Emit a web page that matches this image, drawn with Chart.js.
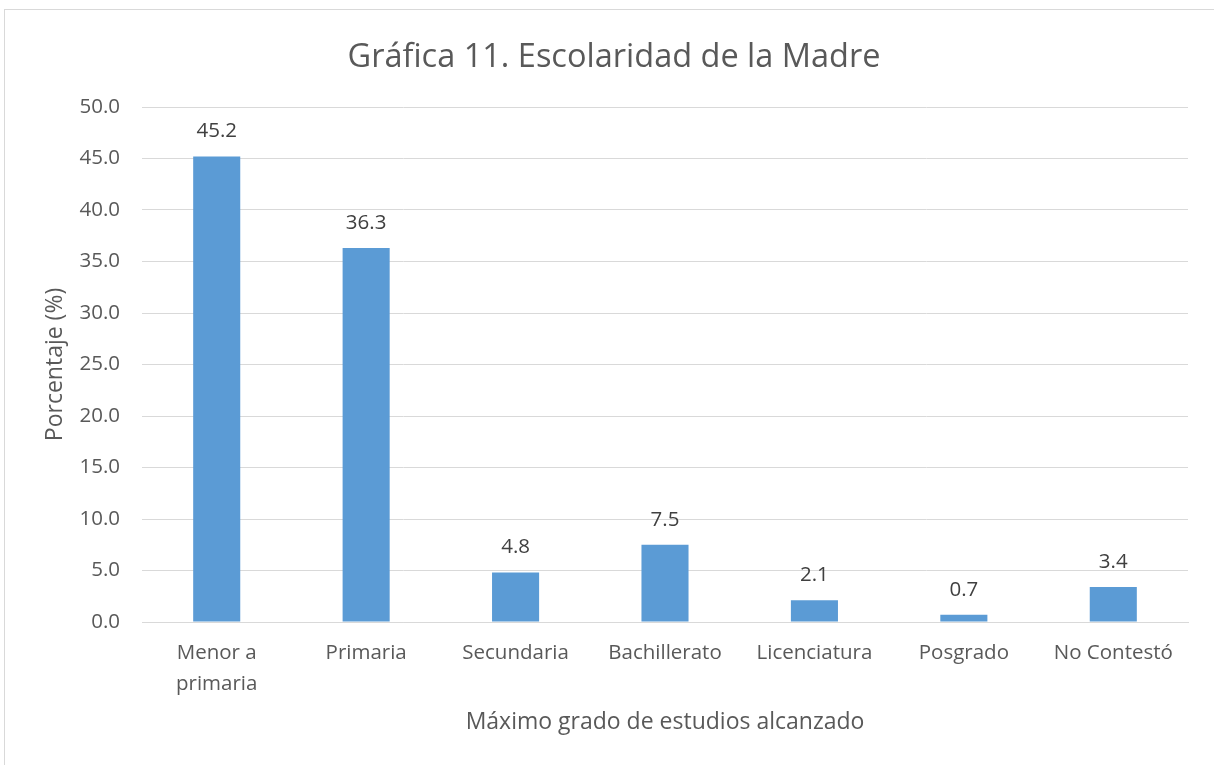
<!DOCTYPE html>
<html>
<head>
<meta charset="utf-8">
<script src="https://cdn.jsdelivr.net/npm/chart.js@4"></script>
<style>
  html, body { margin: 0; padding: 0; background: #fff; overflow: hidden; }
  #wrap { position: relative; width: 1214px; height: 765px; }
  #marco { position: absolute; left: 4px; top: 9px; width: 1220px; height: 770px; border: 1px solid #d9d9d9; box-sizing: border-box; }
</style>
</head>
<body>
<div id="wrap">
  <div id="marco"></div>
  <canvas id="grafica" width="1214" height="765"></canvas>
</div>
<script>
// Datos de la gráfica
const categorias = [["Menor a", "primaria"], "Primaria", "Secundaria", "Bachillerato", "Licenciatura", "Posgrado", "No Contestó"];
const porcentajes = [45.2, 36.3, 4.8, 7.5, 2.1, 0.7, 3.4];

const gris = '#595959';

// etiquetas encima de cada barra
const etiquetas = {
    id: 'etiquetas',
    afterDatasetsDraw(chart) {
        const ctx = chart.ctx;
        const meta = chart.getDatasetMeta(0);
        ctx.save();
        ctx.font = '20.5px "Open Sans"';
        ctx.fillStyle = '#404040';
        ctx.textAlign = 'center';
        ctx.textBaseline = 'middle';
        meta.data.forEach((bar, i) => {
            ctx.fillText(porcentajes[i].toFixed(1), bar.x, bar.y - 25);
        });
        ctx.restore();
    }
};

const ctx = document.getElementById('grafica').getContext('2d');
const chart = new Chart(ctx, {
    type: 'bar',
    data: {
        labels: categorias,
        datasets: [{
            data: porcentajes,
            backgroundColor: '#5b9bd5',
            categoryPercentage: 1,
            barPercentage: 0.315
        }]
    },
    options: {
        responsive: false,
        animation: false,
        layout: { padding: { top: 9, left: 40, right: 26, bottom: 20 } },
        plugins: {
            legend: { display: false },
            tooltip: { enabled: false },
            title: {
                display: true,
                text: 'Gráfica 11. Escolaridad de la Madre',
                color: gris,
                font: { family: 'Open Sans', size: 32.5, weight: 'normal', lineHeight: 1.2 },
                padding: { top: 29, bottom: 30 }
            }
        },
        scales: {
            y: {
                min: 0,
                max: 50,
                afterFit(scale) { scale.width = 102; },
                ticks: {
                    stepSize: 5,
                    padding: 22,
                    color: gris,
                    font: { family: 'Open Sans', size: 20.5 },
                    callback: v => v.toFixed(1)
                },
                grid: { color: '#d9d9d9', drawTicks: false },
                border: { display: false },
                title: {
                    display: true,
                    text: 'Porcentaje (%)',
                    color: gris,
                    font: { family: 'Open Sans', size: 23 },
                    padding: { top: 2, bottom: 0 }
                }
            },
            x: {
                afterFit(scale) { scale.height = 123; },
                ticks: {
                    padding: 16,
                    color: gris,
                    maxRotation: 0,
                    font: { family: 'Open Sans', size: 20.5, lineHeight: 1.5 }
                },
                grid: { display: false, drawTicks: false },
                border: { color: '#d9d9d9' },
                title: {
                    display: true,
                    text: 'Máximo grado de estudios alcanzado',
                    color: gris,
                    font: { family: 'Open Sans', size: 23 },
                    padding: { top: 0, bottom: 9 }
                }
            }
        }
    },
    plugins: [etiquetas]
});
</script>
</body>
</html>
